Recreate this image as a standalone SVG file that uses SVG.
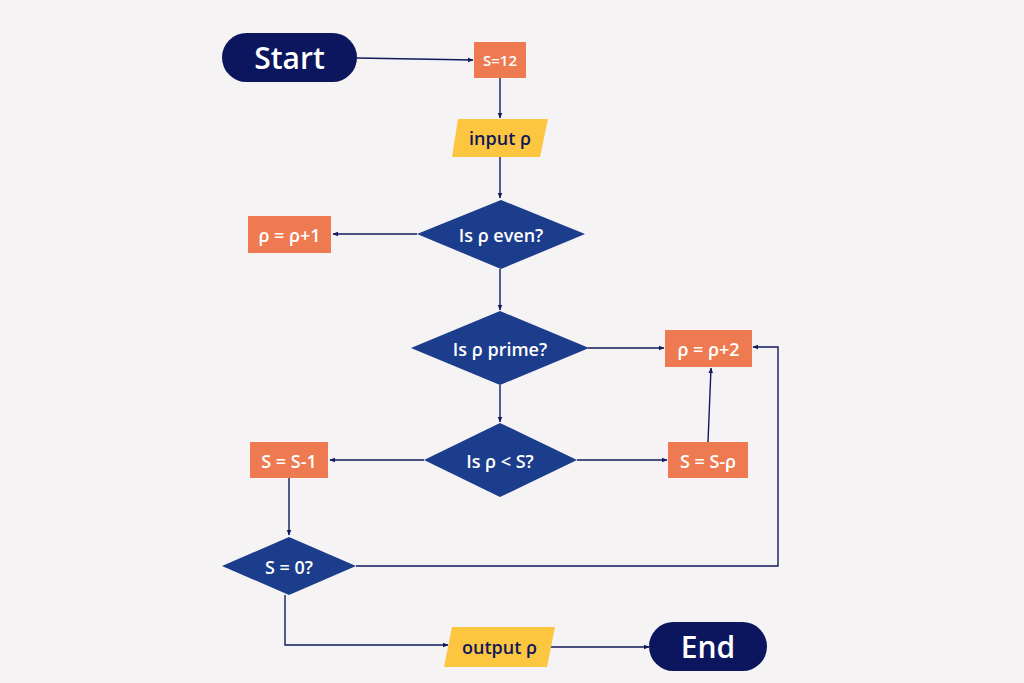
<svg xmlns="http://www.w3.org/2000/svg" width="1024" height="683" viewBox="0 0 1024 683">
<defs>
<marker id="ah" viewBox="0 0 10 10" refX="9" refY="5" markerWidth="6" markerHeight="6" orient="auto" markerUnits="userSpaceOnUse">
<path d="M0,1 L10,5 L0,9 z" fill="#111a5c"/>
</marker>
<style>
.term{fill:#0b165e}
.proc{fill:#ee7a52}
.io{fill:#fcc640}
.dec{fill:#1b3d8c}
.lbl{font-family:"Open Sans","Noto Sans",sans-serif;font-size:18px;fill:#ffffff;text-anchor:middle;dominant-baseline:central;font-weight:600}
.dark{fill:#10185a}
.big{font-size:30px}
.con{fill:none;stroke:#111a5c;stroke-width:1.4;marker-end:url(#ah)}
</style>
</defs>
<rect width="1024" height="683" fill="#f5f3f4"/>
<g id="connectors">
<path class="con" d="M357,58 L473,60"/>
<path class="con" d="M500,78 L500,118"/>
<path class="con" d="M500,157 L500,198"/>
<path class="con" d="M417,234 L333,234"/>
<path class="con" d="M500,269 L500,310"/>
<path class="con" d="M588,348 L664,348"/>
<path class="con" d="M500,385 L500,422"/>
<path class="con" d="M424,460 L330,460"/>
<path class="con" d="M577,460 L667,460"/>
<path class="con" d="M708,442 L711,368"/>
<path class="con" d="M289,478 L289,535"/>
<path class="con" d="M356,566 L778,566 L778,347 L753,347"/>
<path class="con" d="M285,595 L285,645 L448,645"/>
<path class="con" d="M550,647 L649,647"/>
</g>
<g id="start">
<rect class="term" x="222" y="33" width="135" height="49" rx="24.5"/>
<text class="lbl big" x="289.5" y="57">Start</text>
</g>
<g id="s12">
<rect class="proc" x="474" y="42" width="52" height="36"/>
<text class="lbl" x="500" y="60" style="font-size:15px">S=12</text>
</g>
<g id="input">
<polygon class="io" points="458,119 548,119 540,157 452,157"/>
<text class="lbl dark" x="500" y="138">input ρ</text>
</g>
<g id="even">
<polygon class="dec" points="501,200 585,234 501,269 417,234"/>
<text class="lbl" x="501" y="235">Is ρ even?</text>
</g>
<g id="inc1">
<rect class="proc" x="248" y="216" width="83" height="37"/>
<text class="lbl" x="289.5" y="235">ρ = ρ+1</text>
</g>
<g id="prime">
<polygon class="dec" points="500,311 589,348 500,385 411,348"/>
<text class="lbl" x="500" y="349">Is ρ prime?</text>
</g>
<g id="inc2">
<rect class="proc" x="665" y="330" width="87" height="37"/>
<text class="lbl" x="708.5" y="349">ρ = ρ+2</text>
</g>
<g id="less">
<polygon class="dec" points="500,423 577,460 500,497 424,460"/>
<text class="lbl" x="500" y="461">Is ρ &lt; S?</text>
</g>
<g id="dec1">
<rect class="proc" x="250" y="442" width="78" height="36"/>
<text class="lbl" x="289" y="461">S = S-1</text>
</g>
<g id="subp">
<rect class="proc" x="668" y="442" width="80" height="36"/>
<text class="lbl" x="708" y="461">S = S-ρ</text>
</g>
<g id="zero">
<polygon class="dec" points="289,537 356,566 289,595 222,566"/>
<text class="lbl" x="289" y="567">S = 0?</text>
</g>
<g id="output">
<polygon class="io" points="452,627 555,627 547,667 444,667"/>
<text class="lbl dark" x="499.5" y="647">output ρ</text>
</g>
<g id="end">
<rect class="term" x="649" y="622" width="118" height="49" rx="24.5"/>
<text class="lbl big" x="708" y="646">End</text>
</g>
</svg>
